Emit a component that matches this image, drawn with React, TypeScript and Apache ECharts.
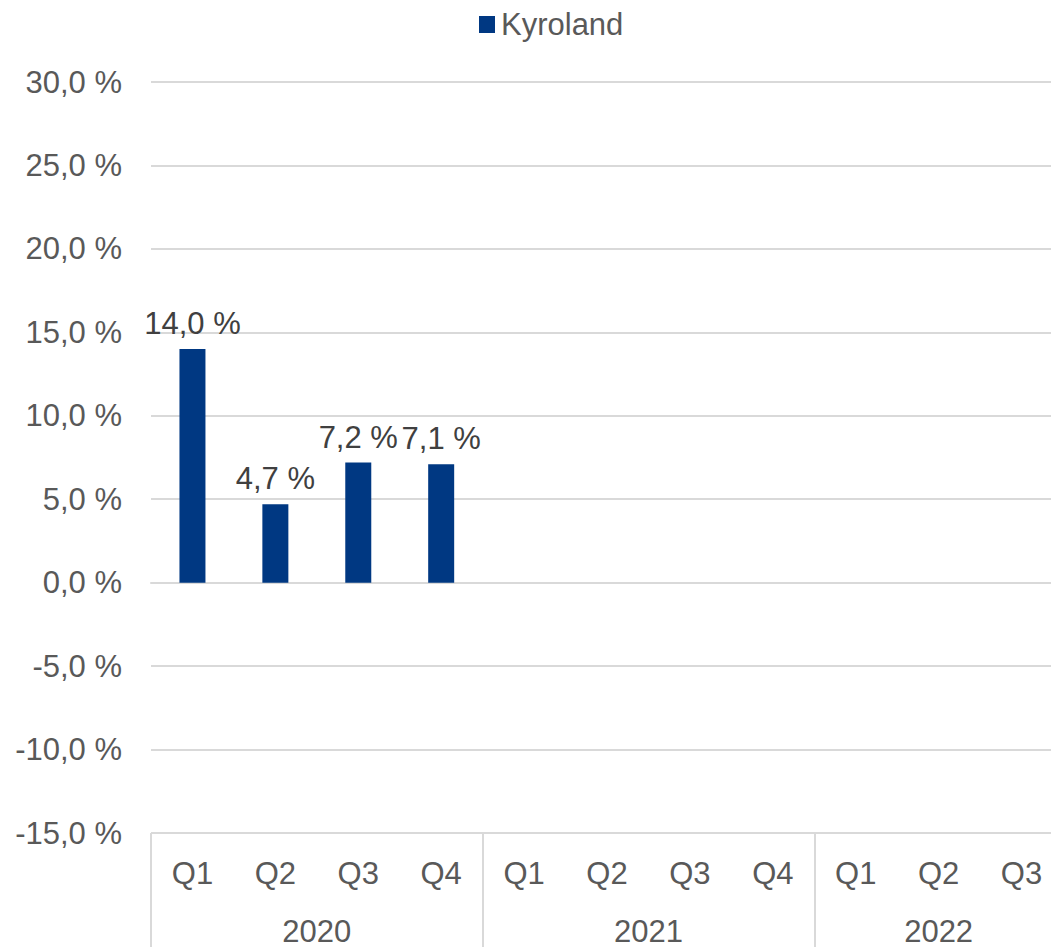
import React, { useEffect, useRef } from "react";
import * as echarts from "echarts";

const quarters = ["Q1", "Q2", "Q3", "Q4", "Q1", "Q2", "Q3", "Q4", "Q1", "Q2", "Q3"];
const years = ["2020", "2021", "2022"];
const yearCenters = [2, 6, 9.5];
const yearBoundaries = [0, 4, 8, 11];
const kyroland = [14.0, 4.7, 7.2, 7.1, null, null, null, null, null, null, null];
const seriesName = "Kyroland";

const fmt = (v: number) => v.toFixed(1).replace(".", ",") + " %";

export default function App() {
  const ref = useRef<HTMLDivElement>(null);
  useEffect(() => {
    if (!ref.current) return;
    const chart = echarts.init(ref.current, null, { renderer: "svg" });
    const font = "'Liberation Sans', Arial, sans-serif";
    chart.setOption({
      animation: false,
      textStyle: { fontFamily: font },
      legend: {
        data: [seriesName],
        left: 474,
        top: 4,
        icon: "rect",
        itemWidth: 16,
        itemHeight: 17,
        itemGap: 4,
        textStyle: { fontSize: 31, color: "#595959", fontFamily: font, padding: [0, 0, 0, 1] },
      },
      grid: { left: 151, right: 0, top: 82, bottom: 108, containLabel: false },
      xAxis: [
        {
          type: "category",
          data: quarters,
          position: "bottom",
          axisLine: { show: true, lineStyle: { color: "#d9d9d9", width: 2 } },
          axisTick: { show: false },
          axisLabel: { fontSize: 31, color: "#595959", margin: 25, fontFamily: font },
          splitLine: { show: false },
        },
        {
          type: "value",
          min: 0,
          max: 11,
          position: "bottom",
          axisLine: { show: false },
          splitLine: { show: false },
          axisTick: {
            show: true,
            customValues: yearBoundaries,
            length: 115,
            lineStyle: { color: "#d9d9d9", width: 2 },
          },
          axisLabel: {
            show: true,
            customValues: yearCenters,
            fontSize: 31,
            color: "#595959",
            margin: 83,
            fontFamily: font,
            formatter: (v: number) => years[yearCenters.indexOf(v)] ?? "",
          },
        },
      ],
      yAxis: {
        type: "value",
        min: -15,
        max: 30,
        interval: 5,
        axisLine: { show: false },
        axisTick: { show: false },
        axisLabel: { fontSize: 31, color: "#595959", margin: 29, formatter: fmt, fontFamily: font },
        splitLine: { lineStyle: { color: "#d9d9d9", width: 2 } },
      },
      series: [
        {
          name: seriesName,
          type: "bar",
          xAxisIndex: 0,
          data: kyroland,
          barWidth: 26,
          itemStyle: { color: "#003882" },
          label: {
            show: true,
            position: "top",
            distance: 10,
            fontSize: 31,
            color: "#404040",
            fontFamily: font,
            formatter: (p: any) => (p.value == null ? "" : fmt(p.value)),
          },
        },
      ],
    });
    return () => chart.dispose();
  }, []);
  return (
    <div style={{ position: "fixed", left: 0, top: 0, width: 1051, height: 947, overflow: "hidden", background: "#fff" }}>
      <div ref={ref} style={{ width: 1063, height: 947 }} />
    </div>
  );
}
